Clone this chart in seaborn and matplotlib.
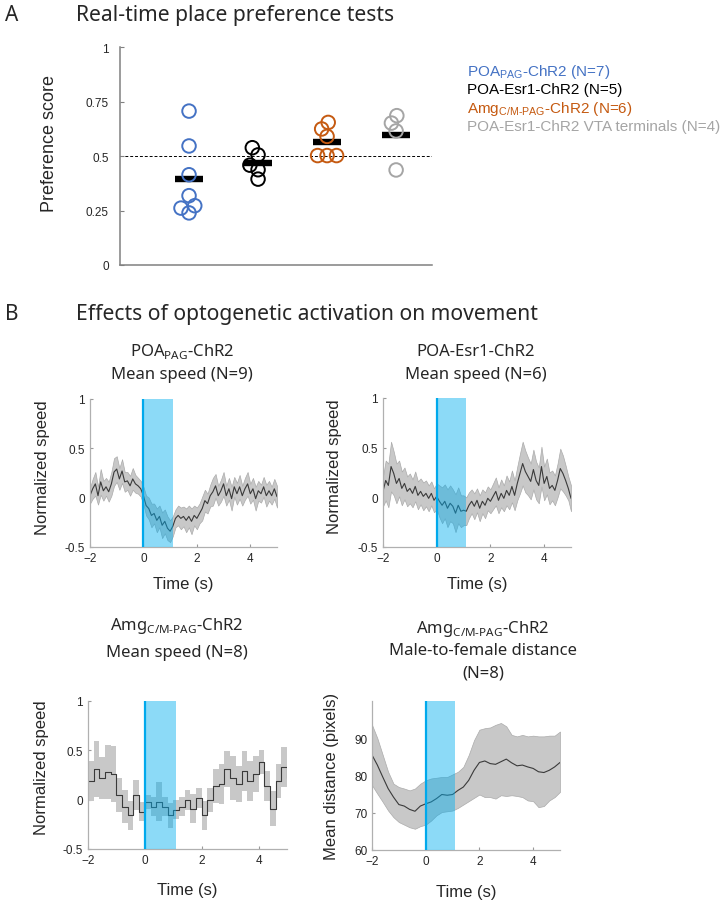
import matplotlib
matplotlib.use('Agg')
import matplotlib.pyplot as plt
import numpy as np
import pandas as pd
import seaborn as sns

# ---- panel A: place preference scores ----
groups = ['POA-PAG', 'POA-Esr1', 'Amg', 'VTA']
pref_poa_pag = [0.706, 0.546, 0.414, 0.318, 0.272, 0.239, 0.261]
pref_poa_esr1 = [0.538, 0.505, 0.458, 0.437, 0.394]
pref_amg = [0.654, 0.624, 0.590, 0.502, 0.502, 0.502]
pref_vta = [0.685, 0.651, 0.615, 0.436]
group_colors = ['#4472C4', '#000000', '#C55A11', '#A5A5A5']
legend_labels = ['POA$_{\\mathrm{PAG}}$-ChR2 (N=7)',
                 'POA-Esr1-ChR2 (N=5)',
                 'Amg$_{\\mathrm{C/M\u2010PAG}}$-ChR2 (N=6)',
                 'POA-Esr1-ChR2 VTA terminals (N=4)']

# ---- panel B: speed traces (0.1 s bins, -2 .. 5 s) ----
poa_pag_mean = [0.02, 0.09, 0.14, 0.02, 0.16, 0.07, 0.11, 0.06, 0.14, 0.26, 0.29, 0.19, 0.27, 0.16, 0.17, 0.12, 0.19, 0.14, 0.12, 0.09,
                0.02, -0.08, -0.11, -0.18, -0.16, -0.23, -0.19, -0.28, -0.24, -0.31, -0.34, -0.29, -0.21, -0.18, -0.21, -0.19, -0.23, -0.19, -0.24, -0.18,
                -0.21, -0.16, -0.11, -0.03, -0.06, 0.02, 0.06, 0.12, 0.02, 0.07, 0.14, 0.02, 0.09, -0.01, 0.11, 0.04, 0.11, 0.02, 0.09, 0.14,
                0.04, 0.09, -0.01, 0.07, 0.04, 0.11, 0.02, 0.07, 0.02, 0.09, 0.01]
poa_pag_sem = [0.08, 0.10, 0.12, 0.09, 0.13, 0.10, 0.09, 0.10, 0.12, 0.14, 0.13, 0.11, 0.12, 0.10, 0.09, 0.10, 0.11, 0.09, 0.08, 0.08,
               0.09, 0.10, 0.11, 0.12, 0.10, 0.12, 0.11, 0.13, 0.12, 0.12, 0.11, 0.10, 0.09, 0.10, 0.11, 0.10, 0.12, 0.11, 0.13, 0.10,
               0.11, 0.10, 0.12, 0.11, 0.10, 0.11, 0.14, 0.12, 0.10, 0.11, 0.12, 0.10, 0.11, 0.12, 0.10, 0.11, 0.12, 0.10, 0.11, 0.12,
               0.10, 0.11, 0.12, 0.10, 0.09, 0.10, 0.11, 0.10, 0.09, 0.10, 0.11]

esr1_mean = [0.06, 0.17, 0.12, 0.31, 0.24, 0.14, 0.19, 0.09, 0.14, 0.06, 0.09, 0.04, 0.11, 0.02, 0.06, 0.01, 0.04, -0.01, 0.04, -0.03,
             0.01, -0.04, -0.08, -0.04, -0.11, -0.06, -0.09, -0.16, -0.08, -0.14, -0.13, -0.14, -0.08, -0.04, -0.09, -0.03, -0.11, -0.04, -0.08, -0.01,
             -0.04, 0.01, 0.06, -0.03, 0.04, -0.01, 0.07, 0.02, 0.11, 0.02, 0.14, 0.24, 0.34, 0.26, 0.21, 0.16, 0.28, 0.17, 0.12, 0.31,
             0.14, 0.21, 0.09, 0.12, 0.07, 0.17, 0.29, 0.24, 0.17, 0.09, -0.01]
esr1_sem = [0.15, 0.20, 0.22, 0.25, 0.22, 0.20, 0.18, 0.17, 0.16, 0.15, 0.15, 0.14, 0.15, 0.14, 0.13, 0.14, 0.13, 0.13, 0.12, 0.12,
            0.13, 0.16, 0.18, 0.17, 0.19, 0.18, 0.17, 0.19, 0.18, 0.16, 0.15, 0.14, 0.13, 0.12, 0.13, 0.12, 0.13, 0.12, 0.13, 0.12,
            0.12, 0.13, 0.14, 0.13, 0.14, 0.13, 0.15, 0.14, 0.16, 0.15, 0.17, 0.20, 0.22, 0.21, 0.19, 0.18, 0.20, 0.19, 0.18, 0.20,
            0.17, 0.18, 0.16, 0.15, 0.15, 0.17, 0.20, 0.18, 0.15, 0.12, 0.13]

# ---- Amg traces (0.2 s bins) ----
amg_speed_mean = [0.19, 0.31, 0.22, 0.28, 0.26, 0.05, -0.07, -0.16, 0.05, -0.12, -0.02, -0.07, -0.02, -0.07, -0.16, -0.10, -0.07, 0.00,
                  -0.09, 0.02, -0.16, 0.00, 0.14, 0.16, 0.31, 0.22, 0.16, 0.29, 0.19, 0.26, 0.38, 0.14, -0.09, 0.19, 0.33, 0.22]
amg_speed_sem = [0.20, 0.28, 0.21, 0.27, 0.28, 0.17, 0.17, 0.15, 0.15, 0.10, 0.07, 0.10, 0.20, 0.10, 0.13, 0.10, 0.10, 0.10,
                 0.15, 0.10, 0.15, 0.12, 0.17, 0.20, 0.18, 0.22, 0.18, 0.20, 0.20, 0.18, 0.12, 0.15, 0.18, 0.17, 0.20, 0.12]

dist_mean = [85.5, 82.8, 79.6, 76.5, 74.2, 72.2, 71.8, 70.9, 70.4, 71.8, 72.4, 72.9, 73.8, 74.9, 74.7, 74.9, 76.0, 76.9,
             78.7, 81.4, 83.5, 83.9, 83.2, 83.0, 83.7, 84.4, 83.4, 82.6, 82.8, 82.3, 81.9, 81.0, 80.8, 81.4, 82.3, 83.5]
dist_upper = [93.6, 90.0, 85.5, 81.0, 77.8, 76.9, 76.5, 76.0, 76.5, 77.8, 78.7, 79.2, 79.4, 79.6, 79.6, 80.3, 81.0, 82.3,
              85.5, 89.5, 92.3, 92.7, 92.9, 93.6, 94.1, 93.2, 90.9, 90.5, 90.9, 90.5, 90.7, 90.5, 90.5, 90.7, 90.7, 91.8]
dist_lower = [77.4, 75.1, 72.9, 70.6, 68.8, 67.5, 66.8, 66.1, 65.7, 66.4, 66.8, 67.9, 69.3, 70.2, 70.4, 70.6, 71.3, 72.2,
              73.1, 74.0, 74.9, 74.2, 74.2, 73.8, 74.7, 74.5, 74.7, 74.5, 74.2, 73.3, 73.1, 71.5, 71.8, 73.3, 74.2, 75.6]

t_fine = np.linspace(-2, 5, len(poa_pag_mean))
t_coarse = np.linspace(-2, 5, len(dist_mean))
stim_on, stim_off = 0, 1.1

W, H = 726, 904
sns.set_style('ticks')
plt.rcParams['font.family'] = ['Liberation Sans', 'DejaVu Sans']
plt.rcParams['mathtext.fontset'] = 'custom'
plt.rcParams['mathtext.rm'] = 'Liberation Sans'
plt.rcParams['mathtext.sf'] = 'Noto Sans'
TXT = '#262626'

fig = plt.figure(figsize=(W / 100, H / 100), dpi=100)


def px_axes(l, t, r, b):
    return fig.add_axes([l / W, 1 - b / H, (r - l) / W, (b - t) / H])


def ftext(x, y, s, **kw):
    fig.text(x / W, 1 - y / H, s, **kw)


# ---------- A ----------
ftext(5, 21, 'A', fontsize=15, family='Noto Sans', color=TXT, va='baseline')
ftext(76, 21, 'Real-time place preference tests', fontsize=15.2, family='Noto Sans', color=TXT, va='baseline')

pref_df = pd.DataFrame({
    'group': np.repeat(groups, [len(pref_poa_pag), len(pref_poa_esr1), len(pref_amg), len(pref_vta)]),
    'score': np.concatenate([pref_poa_pag, pref_poa_esr1, pref_amg, pref_vta]),
})

axA = px_axes(120, 48, 432, 266)
axA.axhline(0.5, color='k', lw=0.7, ls=(0, (3, 2)), zorder=0)
sns.swarmplot(data=pref_df, x='group', y='score', hue='group', order=groups, hue_order=groups,
              palette=group_colors, size=6.5, legend=False, ax=axA)
axA.set_xlim(-1, 3.52)
axA.set_ylim(0, 1)
fig.canvas.draw()
for coll in list(axA.collections):
    if 'draw' in coll.__dict__:
        del coll.draw
    fc = coll.get_facecolors()
    coll.set_edgecolors(fc)
    coll.set_facecolors('none')
    coll.set_sizes([95])
    coll.set_linewidth(1.4)
sns.pointplot(data=pref_df, x='group', y='score', order=groups, errorbar=None, color='black',
              markers='_', linestyles='none', markersize=20, markeredgewidth=4.6, ax=axA)
axA.set_xlim(-1, 3.52)
axA.set_ylim(0, 1)
axA.set_xticks([])
axA.set_xlabel('')
axA.set_yticks([0, 0.25, 0.5, 0.75, 1])
axA.set_yticklabels(['0', '0.25', '0.5', '0.75', '1'])
axA.tick_params(axis='y', direction='in', length=3, labelsize=8.5, labelcolor=TXT, color='#808080', pad=8)
axA.set_ylabel('Preference score', fontsize=13, color=TXT)
axA.yaxis.set_label_coords(-0.2, 0.56)
sns.despine(ax=axA)
for sp in ['left', 'bottom']:
    axA.spines[sp].set_color('#808080')
    axA.spines[sp].set_linewidth(1.1)

for i, (lab, col) in enumerate(zip(legend_labels, group_colors)):
    ftext(467, 76 + 18.4 * i, lab, fontsize=11, color=col, va='baseline')

# ---------- B ----------
ftext(5, 320, 'B', fontsize=15, family='Noto Sans', color=TXT, va='baseline')
ftext(76, 320, 'Effects of optogenetic activation on movement', fontsize=15.2, family='Noto Sans', color=TXT,
      va='baseline')


def trace_panel(ax, t, mean, lo, hi, step=False):
    if step:
        ax.fill_between(t, lo, hi, facecolor='#c8c8c8', edgecolor='none', lw=0, step='post', zorder=1)
    else:
        ax.fill_between(t, lo, hi, facecolor='#c8c8c8', edgecolor='#ababab', lw=0.5, zorder=1)
    sns.lineplot(x=t, y=mean, ax=ax, color='#3a3a3a', lw=0.8, zorder=2,
                 drawstyle='steps-post' if step else 'default')
    ax.axvspan(stim_on, stim_off, color='#00AEEF', alpha=0.45, lw=0, zorder=3)
    ax.axvline(stim_on, color='#00A9EC', lw=1.6, zorder=4)
    ax.set_xlim(-2, 5)
    ax.set_xticks([-2, 0, 2, 4])
    ax.tick_params(direction='in', length=2.5, labelsize=8.5, labelcolor=TXT, color='#999999')
    sns.despine(ax=ax)
    for sp in ['left', 'bottom']:
        ax.spines[sp].set_color('#b0b0b0')
        ax.spines[sp].set_linewidth(0.9)
    ax.set_xlabel('Time (s)', fontsize=12, color=TXT, va='top')


def speed_axis(ax, lx, ly, xy):
    ax.set_ylim(-0.5, 1)
    ax.set_yticks([-0.5, 0, 0.5, 1])
    ax.set_yticklabels(['-0.5', '0', '0.5', '1'])
    ax.set_ylabel('Normalized speed', fontsize=12, color=TXT)
    ax.yaxis.set_label_coords(lx, ly)
    ax.xaxis.set_label_coords(0.5, xy)


ttl = dict(fontsize=12, family='Noto Sans', color=TXT, ha='center', va='center')

ax1 = px_axes(90, 400, 277, 548)
trace_panel(ax1, t_fine, poa_pag_mean,
            np.subtract(poa_pag_mean, poa_pag_sem), np.add(poa_pag_mean, poa_pag_sem))
speed_axis(ax1, -0.214, 0.544, -0.196)
ftext(182, 352, 'POA$_{\\mathsf{PAG}}$-ChR2', **ttl)
ftext(182, 375, 'Mean speed (N=9)', **ttl)

ax2 = px_axes(383, 399, 571, 548)
trace_panel(ax2, t_fine, esr1_mean,
            np.subtract(esr1_mean, esr1_sem), np.add(esr1_mean, esr1_sem))
speed_axis(ax2, -0.218, 0.544, -0.195)
ftext(476, 352, 'POA-Esr1-ChR2', **ttl)
ftext(476, 375, 'Mean speed (N=6)', **ttl)

ax3 = px_axes(88, 702, 287, 850)
trace_panel(ax3, t_coarse, amg_speed_mean,
            np.subtract(amg_speed_mean, amg_speed_sem), np.add(amg_speed_mean, amg_speed_sem), step=True)
speed_axis(ax3, -0.196, 0.557, -0.223)
ftext(177, 626, 'Amg$_{\\mathsf{C/M\u2010PAG}}$-ChR2', **ttl)
ftext(177, 653, 'Mean speed (N=8)', **ttl)

ax4 = px_axes(372, 702, 560, 851)
trace_panel(ax4, t_coarse, dist_mean, dist_lower, dist_upper)
ax4.set_ylim(60, 100)
ax4.set_yticks([60, 70, 80, 90])
ax4.set_ylabel('Mean distance (pixels)', fontsize=12, color=TXT)
ax4.yaxis.set_label_coords(-0.176, 0.5)
ax4.xaxis.set_label_coords(0.5, -0.228)
ftext(483, 629, 'Amg$_{\\mathsf{C/M\u2010PAG}}$-ChR2', **ttl)
ftext(483, 651, 'Male-to-female distance', **ttl)
ftext(483, 674, '(N=8)', **ttl)

fig.savefig('out.png', dpi=100)
